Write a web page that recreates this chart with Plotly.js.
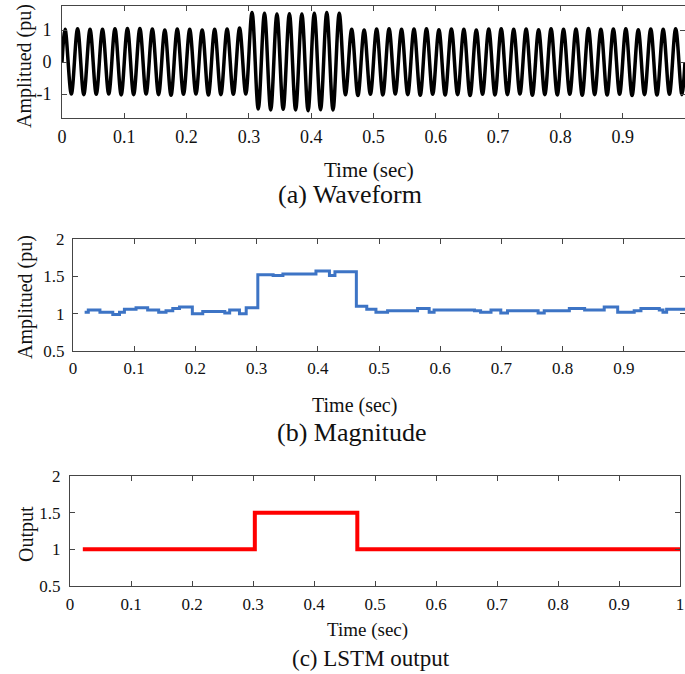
<!DOCTYPE html>
<html>
<head>
<meta charset="utf-8">
<script src="https://cdn.plot.ly/plotly-3.0.1.min.js"></script>
<style>
  html, body { margin: 0; padding: 0; background: #ffffff; }
  #chart { width: 685px; height: 674px; }
</style>
</head>
<body>
<div id="chart"></div>
<script>
// ---------- Data ----------
// (a) Waveform: 50 Hz signal, positive peak and negative trough of each cycle (pu)
const cycleStart = 0;          // s
const cyclePeriod = 0.02;      // s (50 Hz)
const wavePeaks = [
  1.02, 1.04, 1.02, 1.02, 1.04, 1.05, 1.05, 1.03, 1.00, 1.03, 1.02, 1.00, 1.02, 1.03, 1.06,
  1.55, 1.52, 1.50, 1.51, 1.50, 1.52, 1.55, 1.52,
  1.02, 1.00, 1.03, 1.04, 1.02, 1.03, 1.04, 1.01, 1.03, 1.02, 1.00, 1.03, 1.04, 1.02, 1.03,
  1.01, 1.04, 1.02, 1.03, 1.05, 1.02, 1.03, 1.04, 1.01, 1.03, 1.02, 1.04
];
const waveTroughs = [
  -1.00, -1.02, -1.01, -1.00, -1.03, -1.02, -1.00, -1.02, -1.04, -1.01, -1.00, -1.03, -1.02, -1.01, -1.00,
  -1.47, -1.50, -1.48, -1.50, -1.52, -1.49, -1.50,
  -1.02, -1.05, -1.01, -1.03, -1.00, -1.02, -1.04, -1.01, -1.03, -1.02, -1.05, -1.01, -1.03, -1.02,
  -1.00, -1.04, -1.02, -1.03, -1.01, -1.04, -1.02, -1.03, -1.01, -1.05, -1.02, -1.03, -1.01, -1.02
];

// (b) Magnitude: step values (time in s, magnitude in pu)
const magTime = [0.019, 0.025, 0.044, 0.065, 0.076, 0.084, 0.103, 0.122, 0.140, 0.152, 0.163, 0.174,
  0.195, 0.212, 0.248, 0.256, 0.272, 0.283, 0.302, 0.327, 0.343, 0.397, 0.419, 0.428, 0.463, 0.480,
  0.495, 0.514, 0.563, 0.582, 0.590, 0.656, 0.666, 0.683, 0.699, 0.710, 0.760, 0.770, 0.811, 0.836,
  0.868, 0.890, 0.917, 0.928, 0.958, 0.964, 0.970, 1.000];
const magValue = [1.02, 1.05, 1.02, 0.99, 1.02, 1.06, 1.08, 1.05, 1.02, 1.04, 1.07, 1.09,
  1.00, 1.03, 1.01, 1.05, 1.00, 1.08, 1.52, 1.51, 1.53, 1.57, 1.51, 1.56, 1.10, 1.06,
  1.02, 1.04, 1.07, 1.02, 1.05, 1.04, 1.02, 1.05, 1.01, 1.04, 1.01, 1.04, 1.07, 1.05,
  1.09, 1.02, 1.04, 1.07, 1.05, 1.02, 1.06, 1.06];

// (c) LSTM output: step values
const lstmTime = [0.021, 0.303, 0.471, 1.000];
const lstmValue = [1.0, 1.5, 1.0, 1.0];

// Tick labels
const xTickVals = [0, 0.1, 0.2, 0.3, 0.4, 0.5, 0.6, 0.7, 0.8, 0.9, 1];
const xTickText = ['0', '0.1', '0.2', '0.3', '0.4', '0.5', '0.6', '0.7', '0.8', '0.9', '1'];
const yTickValsA = [-1, 0, 1];
const yTickTextA = ['-1', '0', '1'];
const yTickValsBC = [0.5, 1, 1.5, 2];
const yTickTextBC = ['0.5', '1', '1.5', '2'];

// ---------- Build waveform through its extrema ----------
const waveT = [cycleStart];
const waveY = [0];
for (let k = 0; k < wavePeaks.length; k++) {
  waveT.push(cycleStart + cyclePeriod * k + cyclePeriod / 4);
  waveY.push(wavePeaks[k]);
  waveT.push(cycleStart + cyclePeriod * k + 3 * cyclePeriod / 4);
  waveY.push(waveTroughs[k]);
}
waveT.push(cycleStart + cyclePeriod * wavePeaks.length);
waveY.push(0);

// ---------- Layout helpers ----------
const W = 685, H = 674;
const FONT = '"Liberation Serif", "Times New Roman", serif';
const px = x => x / W;
const py = y => 1 - y / H;
const frameColor = '#454545';

function xAxis(d0, d1, anchor, vals, text, fs, standoff) {
  return {
    domain: [px(d0), px(d1)], range: [0, 1], anchor: anchor,
    tickmode: 'array', tickvals: vals, ticktext: text,
    showline: true, linecolor: frameColor, linewidth: 1, mirror: 'ticks',
    ticks: 'inside', ticklen: 5, tickcolor: frameColor, tickwidth: 1,
    showgrid: false, zeroline: false, fixedrange: true,
    tickfont: { family: FONT, size: fs, color: '#111' },
    ticklabelstandoff: standoff
  };
}
function yAxis(top, bottom, anchor, range, vals, text, fs, standoff) {
  return {
    domain: [py(bottom), py(top)], range: range, anchor: anchor,
    tickmode: 'array', tickvals: vals, ticktext: text,
    showline: true, linecolor: frameColor, linewidth: 1, mirror: 'ticks',
    ticks: 'inside', ticklen: 5, tickcolor: frameColor, tickwidth: 1,
    showgrid: false, zeroline: false, fixedrange: true,
    tickfont: { family: FONT, size: fs, color: '#111' },
    ticklabelstandoff: standoff
  };
}
function label(text, x, y, size, angle) {
  return {
    text: text, xref: 'paper', yref: 'paper', x: px(x), y: py(y),
    xanchor: 'center', yanchor: 'middle', showarrow: false,
    textangle: angle || 0,
    font: { family: FONT, size: size, color: '#111' }
  };
}

const traces = [
  { x: waveT, y: waveY, xaxis: 'x', yaxis: 'y', type: 'scatter', mode: 'lines',
    line: { color: '#000000', width: 3.5, shape: 'spline', smoothing: 1 }, hoverinfo: 'skip' },
  { x: magTime, y: magValue, xaxis: 'x2', yaxis: 'y2', type: 'scatter', mode: 'lines',
    line: { color: '#3d74c5', width: 3, shape: 'hv' }, hoverinfo: 'skip' },
  { x: lstmTime, y: lstmValue, xaxis: 'x3', yaxis: 'y3', type: 'scatter', mode: 'lines',
    line: { color: '#ff0000', width: 4, shape: 'hv' }, hoverinfo: 'skip' }
];

const layout = {
  width: W, height: H,
  margin: { l: 0, r: 0, t: 0, b: 0, pad: 0 },
  paper_bgcolor: '#ffffff', plot_bgcolor: '#ffffff',
  showlegend: false,
  xaxis: xAxis(62, 685, 'y', xTickVals.slice(0, 10), xTickText.slice(0, 10), 18, 2),
  yaxis: yAxis(6, 118, 'x', [-1.75, 1.75], yTickValsA, yTickTextA, 18, 6),
  xaxis2: xAxis(73, 685, 'y2', xTickVals, xTickText, 17, 2),
  yaxis2: yAxis(239, 351, 'x2', [0.5, 2], yTickValsBC, yTickTextBC, 17, 4),
  xaxis3: xAxis(70, 680, 'y3', xTickVals, xTickText, 17, 3),
  yaxis3: yAxis(476, 586, 'x3', [0.5, 2], yTickValsBC, yTickTextBC, 17, 5),
  annotations: [
    label('Amplitued (pu)', 25, 66, 20, -90),
    label('Time (sec)', 369, 170, 21),
    label('(a) Waveform', 350, 195, 26),
    label('Amplitued (pu)', 26, 297, 20, -90),
    label('Time (sec)', 354, 405, 20),
    label('(b) Magnitude', 351, 432, 26),
    label('Output', 26, 534, 20, -90),
    label('Time (sec)', 367, 630, 19),
    label('(c) LSTM output', 371, 658, 23)
  ]
};

Plotly.newPlot('chart', traces, layout, { staticPlot: true, displayModeBar: false });
</script>
</body>
</html>
